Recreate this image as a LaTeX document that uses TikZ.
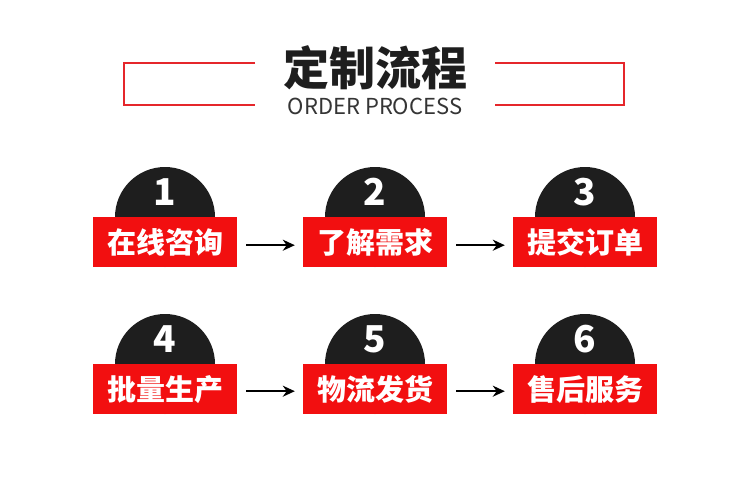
\documentclass[tikz,border=0pt]{standalone}
\usepackage{fontspec}
\newfontfamily\cjk{Noto Sans CJK SC}
\usetikzlibrary{arrows.meta}
\definecolor{bred}{HTML}{F20F10}
\definecolor{lred}{HTML}{E5262B}
\definecolor{dk}{HTML}{1E1E1E}
\begin{document}
\begin{tikzpicture}[x=1pt,y=-1pt,
  stepbox/.style={fill=bred,minimum width=144pt,minimum height=50pt,inner sep=0pt,text=white,font=\cjk\bfseries\fontsize{29}{29}\selectfont},
  disc/.style={circle,fill=dk,minimum size=100pt,inner sep=0pt},
  num/.style={text=white,font=\cjk\bfseries\fontsize{37}{37}\selectfont,inner sep=0pt},
  flow/.style={-{Stealth[length=12pt,width=11pt]},line width=2pt,black},
  bracket/.style={lred,line width=1.2pt}]
\useasboundingbox (0,0) rectangle (750,480);
\fill[white] (0,0) rectangle (750,480);
% header
\node[font=\cjk\bfseries\fontsize{46}{46}\selectfont,text=dk,inner sep=0pt] (title) at (375,68) {定制流程};
\node[font=\cjk\fontsize{22}{22}\selectfont,text=dk!90,inner sep=0pt] (sub) at (375,106) {ORDER PROCESS};
\coordinate (l1) at (255,63); \coordinate (l2) at (124,63); \coordinate (l3) at (124,105); \coordinate (l4) at (255,105);
\coordinate (r1) at (495,63); \coordinate (r2) at (624,63); \coordinate (r3) at (624,105); \coordinate (r4) at (495,105);
\draw[bracket] (l1) -- (l2) -- (l3) -- (l4);
\draw[bracket] (r1) -- (r2) -- (r3) -- (r4);
% steps
\foreach \i/\x/\y/\t in {1/165/217/在线咨询,2/375/217/了解需求,3/585/217/提交订单,4/165/364/批量生产,5/375/364/物流发货,6/585/364/售后服务}{
  \node[disc] (c\i) at (\x,\y) {};
  \node[num] (n\i) at (\x,\y-25) {\i};
  \node[stepbox,anchor=north] (b\i) at (\x,\y) {\t};
}
\draw[flow] ([yshift=-3pt]b1.east) ++(9,0) -- ([xshift=-8pt,yshift=-3pt]b2.west);
\draw[flow] ([yshift=-3pt]b2.east) ++(9,0) -- ([xshift=-8pt,yshift=-3pt]b3.west);
\draw[flow] ([yshift=-2pt]b4.east) ++(9,0) -- ([xshift=-8pt,yshift=-2pt]b5.west);
\draw[flow] ([yshift=-2pt]b5.east) ++(9,0) -- ([xshift=-8pt,yshift=-2pt]b6.west);
\end{tikzpicture}
\end{document}
